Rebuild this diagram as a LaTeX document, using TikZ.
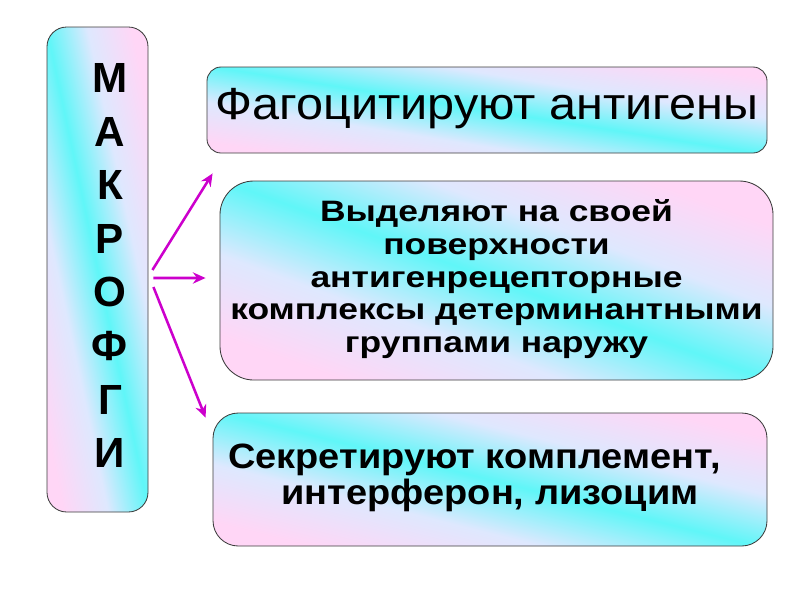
\documentclass[tikz,border=0pt]{standalone}
\usepackage{fontspec}
\setmainfont{Liberation Sans}
\usetikzlibrary{calc,arrows.meta,positioning}

\definecolor{pinkL}{RGB}{255,214,246}
\definecolor{lavL}{RGB}{222,232,254}
\definecolor{cyanL}{RGB}{96,246,248}
\definecolor{frameC}{RGB}{60,60,60}
\definecolor{arrowC}{RGB}{204,0,204}

\pgfdeclarehorizontalshading{slideshade}{100bp}{
    color(0bp)=(pinkL); color(25bp)=(pinkL); color(38bp)=(lavL);
    color(50bp)=(cyanL); color(62bp)=(lavL); color(75bp)=(pinkL);
    color(100bp)=(pinkL)}

% text stretched sideways, as on the slide
\newcommand{\wideText}[2]{\scalebox{#1}[1]{\begin{tabular}{@{}c@{}}#2\end{tabular}}}

\tikzset{
    slidebox/.style={draw=frameC, line width=0.6pt, shading=slideshade,
        shading angle=#1, align=center, inner sep=0pt},
    letter/.style={font=\bfseries\fontsize{30}{30}\selectfont},
    fork/.style={draw=arrowC, line width=1.8pt, -{Stealth[length=9pt,width=8pt]}}
}

\begin{document}
\begin{tikzpicture}[x=0.025cm, y=-0.025cm]

\useasboundingbox (0,0) rectangle (800,600);

% left column
\node[slidebox=12, rounded corners=14pt, minimum width=101*0.025cm,
    minimum height=485*0.025cm] (macro) at (97.5,269.5) {};
\foreach \l [count=\i] in {М,А,К,Р,О,Ф,Г,И}
{
    \node[letter] (lt\i) at (110,{78+(\i-1)*53.6}) {\l};
}

% right boxes
\node[slidebox=81, rounded corners=10pt, minimum width=560*0.025cm,
    minimum height=86*0.025cm, font=\fontsize{32}{34}\selectfont]
    (fago) at (487,110) {\wideText{1.08}{Фагоцитируют антигены}};
\node[slidebox=70, rounded corners=24pt, minimum width=553*0.025cm,
    minimum height=199*0.025cm, font=\bfseries\fontsize{21}{23.4}\selectfont]
    (vydel) at (496.5,280.5) {\wideText{1.2}{Выделяют на своей\\поверхности\\антигенрецепторные\\комплексы детерминантными\\группами наружу}};
\node[slidebox=76, rounded corners=18pt, minimum width=554*0.025cm,
    minimum height=133*0.025cm, font=\bfseries\fontsize{25}{24}\selectfont]
    (sekret) at (490,479.5) {\wideText{1.08}{Секретируют комплемент,\hspace*{0.72cm}\\интерферон, лизоцим}};

% arrows
\coordinate (forkA) at ($(macro.east)+(4,0.5)$);
\coordinate (forkB) at ($(macro.east)+(5,8.5)$);
\coordinate (forkC) at ($(macro.east)+(5,17.5)$);
\coordinate (endA) at ($(fago.south west)+(6,20)$);
\coordinate (endB) at ($(vydel.west)+(-14,-2.5)$);
\coordinate (endC) at ($(sekret.north west)+(-7,5)$);
\draw[fork] (forkA) -- (endA);
\draw[fork] (forkB) -- (endB);
\draw[fork] (forkC) -- (endC);

\end{tikzpicture}
\end{document}
